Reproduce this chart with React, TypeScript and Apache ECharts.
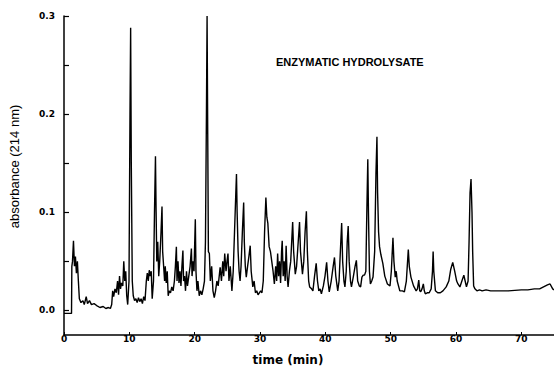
import React, { useEffect, useRef } from "react";
import * as echarts from "echarts";

// Axis ticks and labels
const yTickValues = [0, 0.05, 0.1, 0.15, 0.2, 0.25, 0.3];
const yLabelValues = [0, 0.1, 0.2, 0.3];
const xTickValues = [0, 10, 20, 30, 40, 50, 60, 70];

// Chromatogram trace: [time (min), absorbance (214 nm)]
const trace0to12: [number, number][] = [
  [0, -0.003], [1.15, -0.003], [1.2, 0.045], [1.3, 0.05], [1.45, 0.071], [1.6, 0.045],
  [1.75, 0.055], [1.9, 0.038], [2.05, 0.05], [2.2, 0.03], [2.35, 0.012], [2.6, 0.008],
  [2.9, 0.01], [3.1, 0.006], [3.4, 0.014], [3.6, 0.007], [3.9, 0.01], [4.2, 0.006],
  [4.6, 0.007], [5.0, 0.005], [5.5, 0.003], [6.0, 0.004], [6.4, 0.002], [6.8, 0.003],
  [7.1, 0.002], [7.3, 0.006], [7.45, 0.02], [7.6, 0.014], [7.8, 0.022], [8.0, 0.018],
  [8.2, 0.03], [8.35, 0.016], [8.5, 0.035], [8.65, 0.022], [8.8, 0.028], [9.0, 0.025],
  [9.15, 0.05], [9.3, 0.03], [9.45, 0.04], [9.6, 0.015], [9.75, 0.006], [9.95, 0.03],
  [10.1, 0.2], [10.2, 0.288], [10.3, 0.15], [10.45, 0.03], [10.6, 0.015], [10.8, 0.01],
  [11.0, 0.012], [11.2, 0.008], [11.4, 0.013], [11.6, 0.009], [11.8, 0.012], [12.0, 0.007],
  [12.2, 0.014], [12.4, 0.01],
];

const trace12to23: [number, number][] = [
  [12.6, 0.03], [12.75, 0.038], [12.9, 0.03], [13.05, 0.041], [13.2, 0.035], [13.35, 0.04],
  [13.5, 0.012], [13.7, 0.03], [13.85, 0.1], [14.0, 0.157], [14.1, 0.1], [14.2, 0.05],
  [14.35, 0.07], [14.5, 0.035], [14.65, 0.05], [14.85, 0.08], [15.0, 0.106], [15.1, 0.06],
  [15.25, 0.045], [15.4, 0.03], [15.5, 0.045], [15.65, 0.028], [15.8, 0.04], [15.95, 0.015],
  [16.1, 0.02], [16.3, 0.018], [16.5, 0.024], [16.7, 0.02], [16.9, 0.03], [17.05, 0.045],
  [17.2, 0.065], [17.3, 0.03], [17.45, 0.05], [17.6, 0.028], [17.75, 0.04], [17.9, 0.025],
  [18.05, 0.045], [18.2, 0.061], [18.3, 0.03], [18.45, 0.035], [18.6, 0.02], [18.75, 0.04],
  [18.9, 0.025], [19.1, 0.035], [19.3, 0.045], [19.5, 0.063], [19.6, 0.035], [19.75, 0.05],
  [19.9, 0.04], [20.1, 0.093], [20.2, 0.04], [20.35, 0.02], [20.5, 0.03], [20.7, 0.015],
  [20.9, 0.02], [21.1, 0.016], [21.3, 0.022], [21.5, 0.03], [21.65, 0.07], [21.8, 0.2],
  [21.9, 0.3], [22.0, 0.18], [22.1, 0.06], [22.25, 0.058], [22.4, 0.03], [22.6, 0.045],
  [22.8, 0.02], [23.0, 0.013],
];

const trace23to46: [number, number][] = [
  [23.2, 0.02], [23.4, 0.03], [23.6, 0.025], [23.9, 0.044], [24.1, 0.03], [24.3, 0.05],
  [24.45, 0.035], [24.6, 0.058], [24.8, 0.04], [24.95, 0.05], [25.1, 0.058], [25.25, 0.03],
  [25.45, 0.045], [25.7, 0.02], [25.9, 0.04], [26.1, 0.08], [26.3, 0.12], [26.4, 0.139],
  [26.5, 0.1], [26.65, 0.06], [26.8, 0.04], [26.95, 0.03], [27.1, 0.045], [27.3, 0.08],
  [27.5, 0.11], [27.6, 0.07], [27.75, 0.045], [27.9, 0.034], [28.1, 0.045], [28.3, 0.055],
  [28.5, 0.066], [28.65, 0.04], [28.9, 0.024], [29.1, 0.03], [29.3, 0.018], [29.5, 0.02],
  [29.7, 0.016], [29.9, 0.018], [30.1, 0.02], [30.3, 0.018], [30.5, 0.03], [30.7, 0.08],
  [30.9, 0.115], [31.05, 0.095], [31.2, 0.089], [31.4, 0.065], [31.6, 0.06], [31.8, 0.05],
  [32.0, 0.04], [32.2, 0.027], [32.4, 0.045], [32.55, 0.03], [32.7, 0.058], [32.85, 0.035],
  [33.0, 0.05], [33.15, 0.028], [33.3, 0.06], [33.4, 0.071], [33.55, 0.035], [33.7, 0.05],
  [33.85, 0.03], [34.0, 0.066], [34.15, 0.035], [34.3, 0.024], [34.5, 0.04], [34.7, 0.05],
  [34.85, 0.07], [35.0, 0.09], [35.15, 0.06], [35.4, 0.037], [35.6, 0.045], [35.85, 0.07],
  [36.05, 0.09], [36.2, 0.06], [36.5, 0.037], [36.7, 0.05], [36.9, 0.08], [37.1, 0.101],
  [37.25, 0.06], [37.45, 0.03], [37.6, 0.024], [37.9, 0.022], [38.1, 0.02], [38.35, 0.035],
  [38.6, 0.048], [38.8, 0.03], [39.0, 0.02], [39.2, 0.022], [39.4, 0.017], [39.7, 0.025],
  [39.95, 0.035], [40.2, 0.049], [40.4, 0.03], [40.6, 0.019], [40.9, 0.03], [41.2, 0.045],
  [41.4, 0.054], [41.6, 0.035], [41.9, 0.02], [42.1, 0.03], [42.3, 0.06], [42.5, 0.089],
  [42.65, 0.05], [42.85, 0.03], [43.0, 0.024], [43.2, 0.04], [43.35, 0.07], [43.5, 0.086],
  [43.65, 0.05], [43.85, 0.03], [44.0, 0.024], [44.3, 0.035], [44.55, 0.045], [44.75, 0.051],
  [44.95, 0.03], [45.2, 0.025], [45.4, 0.024], [45.6, 0.034], [45.8, 0.036], [46.0, 0.036],
];

const trace46to75: [number, number][] = [
  [46.2, 0.04], [46.35, 0.1], [46.5, 0.154], [46.6, 0.1], [46.75, 0.04], [46.9, 0.027],
  [47.1, 0.03], [47.3, 0.034], [47.55, 0.06], [47.75, 0.14], [47.9, 0.177], [48.0, 0.12],
  [48.15, 0.08], [48.3, 0.065], [48.5, 0.057], [48.8, 0.048], [49.1, 0.035], [49.5, 0.027],
  [49.9, 0.025], [50.1, 0.04], [50.35, 0.074], [50.5, 0.05], [50.7, 0.034], [50.85, 0.04],
  [51.0, 0.03], [51.4, 0.02], [51.8, 0.02], [52.1, 0.019], [52.4, 0.03], [52.7, 0.062],
  [52.85, 0.045], [53.1, 0.034], [53.5, 0.025], [53.9, 0.02], [54.1, 0.022], [54.3, 0.031],
  [54.45, 0.02], [54.6, 0.019], [54.8, 0.022], [55.0, 0.027], [55.15, 0.02], [55.3, 0.017],
  [55.6, 0.018], [55.9, 0.018], [56.2, 0.022], [56.4, 0.04], [56.5, 0.06], [56.6, 0.04],
  [56.85, 0.02], [57.2, 0.018], [57.6, 0.018], [58.0, 0.02], [58.5, 0.024], [58.9, 0.03],
  [59.2, 0.042], [59.5, 0.049], [59.8, 0.04], [60.1, 0.03], [60.3, 0.027], [60.6, 0.024],
  [60.9, 0.03], [61.2, 0.036], [61.4, 0.03], [61.6, 0.024], [61.85, 0.03], [62.0, 0.07],
  [62.15, 0.12], [62.3, 0.134], [62.45, 0.1], [62.55, 0.06], [62.7, 0.025], [62.9, 0.022],
  [63.2, 0.02], [63.6, 0.021], [64.0, 0.02], [64.6, 0.021], [65.3, 0.02], [66.0, 0.02],
  [67.0, 0.02], [68.0, 0.02], [69.0, 0.0205], [70.0, 0.021], [71.0, 0.021], [72.0, 0.022],
  [72.8, 0.022], [73.4, 0.024], [74.0, 0.026], [74.4, 0.027], [74.8, 0.022], [75, 0.021],
];

const chartTitle = "ENZYMATIC HYDROLYSATE";
const xAxisName = "time (min)";
const yAxisName = "absorbance (214 nm)";

export default function App() {
  const ref = useRef<HTMLDivElement>(null);

  useEffect(() => {
    if (!ref.current) return;
    const chart = echarts.init(ref.current, null, { renderer: "svg" });
    const data = [...trace0to12, ...trace12to23, ...trace23to46, ...trace46to75];
    const labelFont = {
      color: "#000",
      fontFamily: "DejaVu Sans",
      fontWeight: "bold" as const,
      fontSize: 9,
    };
    chart.setOption({
      animation: false,
      backgroundColor: "#fff",
      grid: { left: 64, right: 0, top: 16, bottom: 38 },
      xAxis: {
        type: "value",
        min: 0,
        max: 75,
        axisLine: { show: true, onZero: false, lineStyle: { color: "#000", width: 1.5 } },
        axisTick: { show: true, inside: true, length: 3, customValues: xTickValues, lineStyle: { color: "#000", width: 1 } },
        axisLabel: { show: true, customValues: xTickValues, margin: -1, ...labelFont },
        splitLine: { show: false },
      },
      yAxis: {
        type: "value",
        min: -0.025,
        max: 0.3,
        axisLine: { show: true, onZero: false, lineStyle: { color: "#000", width: 1.5 } },
        axisTick: { show: true, inside: true, length: 5, customValues: yTickValues, lineStyle: { color: "#000", width: 1.2 } },
        axisLabel: {
          show: true,
          customValues: yLabelValues,
          margin: 9,
          formatter: (v: number) => v.toFixed(1),
          ...labelFont,
        },
        splitLine: { show: false },
      },
      graphic: [
        {
          type: "text",
          left: 276,
          top: 56,
          style: {
            text: chartTitle,
            fill: "#000",
            font: "bold 11px 'Liberation Sans'",
          },
        },
        {
          type: "text",
          x: 288,
          y: 360,
          style: {
            text: xAxisName,
            fill: "#000",
            font: "bold 12px 'DejaVu Sans'",
            textAlign: "center",
            textVerticalAlign: "middle",
          },
        },
        {
          type: "text",
          x: 14.5,
          y: 166.5,
          rotation: Math.PI / 2,
          style: {
            text: yAxisName,
            fill: "#000",
            font: "13px 'Liberation Sans'",
            textAlign: "center",
            textVerticalAlign: "middle",
          },
        },
      ],
      series: [
        {
          type: "line",
          data,
          showSymbol: false,
          symbol: "none",
          lineStyle: { color: "#000", width: 1.4 },
        },
      ],
    });
    return () => chart.dispose();
  }, []);

  return (
    <div
      ref={ref}
      style={{ position: "absolute", left: 0, top: 0, width: 554, height: 373 }}
    />
  );
}
